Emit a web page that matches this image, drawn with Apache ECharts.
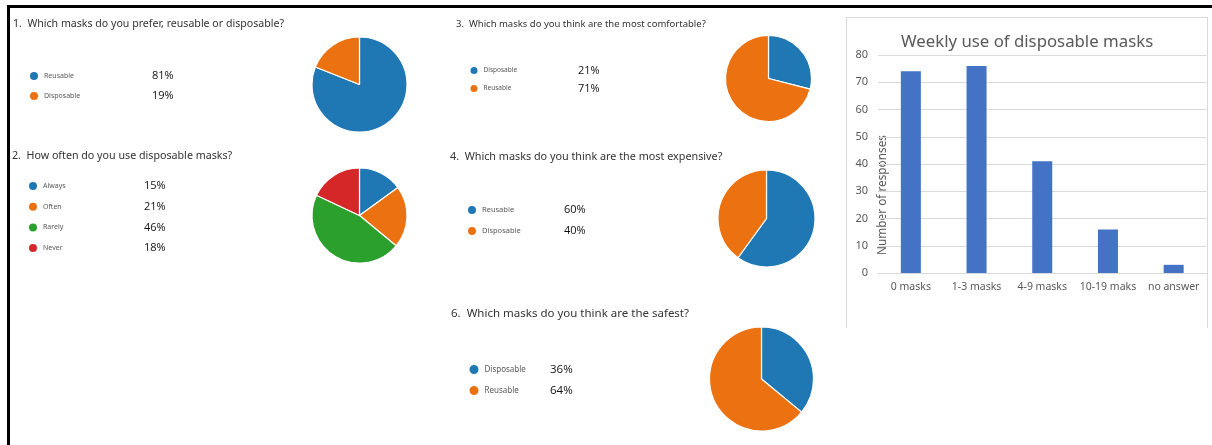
<!DOCTYPE html>
<html>
<head>
<meta charset="utf-8">
<script src="https://cdn.jsdelivr.net/npm/echarts@6/dist/echarts.min.js"></script>
<style>
  html, body { margin: 0; padding: 0; background: #fff; }
  #wrap { position: relative; width: 1212px; height: 445px; overflow: hidden; }
  #frame { position: absolute; left: 7px; top: 5px; width: 1300px; height: 500px;
           border-top: 3px solid #000; border-left: 3px solid #000; }
  #panel { position: absolute; left: 846px; top: 17px; width: 360px; height: 310px;
           border: 1px solid #d9d9d9; border-bottom: none; }
  #chart { position: absolute; left: 0; top: 0; width: 1212px; height: 445px; }
</style>
</head>
<body>
<div id="wrap">
  <div id="frame"></div>
  <div id="panel"></div>
  <div id="chart"></div>
</div>
<script>
// ---- data ----
const q1Title = '1.  Which masks do you prefer, reusable or disposable?';
const q1Names = ['Reusable', 'Disposable'];
const q1Values = [81, 19];
const q1Pct = ['81%', '19%'];

const q2Title = '2.  How often do you use disposable masks?';
const q2Names = ['Always', 'Often', 'Rarely', 'Never'];
const q2Values = [15, 21, 46, 18];
const q2Pct = ['15%', '21%', '46%', '18%'];

const q3Title = '3.  Which masks do you think are the most comfortable?';
const q3Names = ['Disposable', 'Reusable'];
const q3Values = [29, 71];          // slice sizes as drawn
const q3Pct = ['21%', '71%'];       // percentages as printed

const q4Title = '4.  Which masks do you think are the most expensive?';
const q4Names = ['Reusable', 'Disposable'];
const q4Values = [60, 40];
const q4Pct = ['60%', '40%'];

const q6Title = '6.  Which masks do you think are the safest?';
const q6Names = ['Disposable', 'Reusable'];
const q6Values = [36, 64];
const q6Pct = ['36%', '64%'];

const barTitle = 'Weekly use of disposable masks';
const barCategories = ['0 masks', '1-3 masks', '4-9 masks', '10-19 maks', 'no answer'];
const barValues = [74, 76, 41, 16, 3];
const barAxisName = 'Number of responses';

// ---- styles ----
const C = { blue: '#1f77b4', orange: '#ec7211', green: '#2ca02c', red: '#d62728' };
const q1Colors = [C.blue, C.orange];
const q2Colors = [C.blue, C.orange, C.green, C.red];
const q3Colors = [C.blue, C.orange];
const q4Colors = [C.blue, C.orange];
const q6Colors = [C.blue, C.orange];

const FONT = '"Noto Sans", "Open Sans", sans-serif';

function pieSeries(names, values, colors, center, r) {
  return {
    type: 'pie', center: center, radius: r, startAngle: 90, clockwise: true,
    label: { show: false }, labelLine: { show: false },
    emphasis: { disabled: true }, silent: true, animation: false,
    itemStyle: { borderColor: '#ffffff', borderWidth: 1.2 },
    data: names.map((n, i) => ({ name: n, value: values[i], itemStyle: { color: colors[i] } }))
  };
}

function legendFor(names, pct, colors, left, top, icon, gap, nameW, nameSize, pctSize) {
  return {
    orient: 'vertical', left: left, top: top, padding: 0,
    icon: 'circle', itemWidth: icon, itemHeight: icon, itemGap: gap,
    selectedMode: false,
    data: names.map((n, i) => ({ name: n, itemStyle: { color: colors[i] } })),
    formatter: function (name) {
      const i = names.indexOf(name);
      return '{n|' + name + '}{p|' + pct[i] + '}';
    },
    textStyle: {
      rich: {
        n: { width: nameW, fontSize: nameSize, color: '#595959', fontFamily: FONT, lineHeight: 14 },
        p: { fontSize: pctSize, color: '#111', fontFamily: '"Open Sans", sans-serif', lineHeight: 14 }
      }
    }
  };
}

function titleAt(text, left, top, size, color) {
  return { text: text, left: left, top: top, padding: 0,
           textStyle: { fontSize: size, fontWeight: 'normal', color: color || '#333', fontFamily: FONT } };
}

const chart = echarts.init(document.getElementById('chart'), null, { renderer: 'canvas' });
chart.setOption({
  animation: false,
  backgroundColor: 'transparent',
  title: [
    titleAt(q1Title, 13, 18, 10.6),
    titleAt(q3Title, 456, 19, 9.5),
    titleAt(q2Title, 12, 150, 10.7),
    titleAt(q4Title, 450, 151, 10.8),
    titleAt(q6Title, 451, 307.5, 11.5),
    { text: barTitle, left: 901, top: 34, padding: 0,
      textStyle: { fontSize: 16.8, fontWeight: 'normal', color: '#595959', fontFamily: FONT } }
  ],
  legend: [
    legendFor(q1Names, q1Pct, q1Colors, 28, 70, 10, 8, 108, 7, 11),
    legendFor(q3Names, q3Pct, q3Colors, 468.5, 65, 9, 7, 94.5, 6.5, 11),
    legendFor(q2Names, q2Pct, q2Colors, 27, 180, 10, 8.7, 101, 7, 11),
    legendFor(q4Names, q4Pct, q4Colors, 466, 204, 10, 9, 82, 7.5, 11),
    legendFor(q6Names, q6Pct, q6Colors, 467.5, 363, 11, 8, 65.5, 8, 11.5)
  ],
  grid: { left: 878, top: 55, width: 328.5, height: 218, containLabel: false },
  xAxis: {
    type: 'category', data: barCategories,
    axisLine: { lineStyle: { color: '#d9d9d9' } },
    axisTick: { show: false },
    axisLabel: { color: '#595959', fontSize: 10.5, fontFamily: FONT, margin: 9, interval: 0 }
  },
  yAxis: {
    type: 'value', min: 0, max: 80, interval: 10,
    axisLine: { show: false }, axisTick: { show: false },
    axisLabel: { color: '#595959', fontSize: 11, fontFamily: FONT, margin: 10 },
    splitLine: { lineStyle: { color: '#d9d9d9', width: 1 } }
  },
  graphic: [{
    type: 'text', x: 883, y: 195, rotation: Math.PI / 2, silent: true,
    style: { text: barAxisName, fill: '#595959', fontSize: 11.8, fontFamily: FONT,
             align: 'center', verticalAlign: 'middle' }
  }],
  series: [
    pieSeries(q1Names, q1Values, q1Colors, [359.5, 84.5], 47.5),
    pieSeries(q3Names, q3Values, q3Colors, [768.5, 78.5], 43),
    pieSeries(q2Names, q2Values, q2Colors, [359.5, 215.5], 47.5),
    pieSeries(q4Names, q4Values, q4Colors, [766.5, 218.5], 48.5),
    pieSeries(q6Names, q6Values, q6Colors, [761.5, 379], 52),
    { type: 'bar', data: barValues, barWidth: 20, silent: true,
      itemStyle: { color: '#4472c4' } }
  ]
});
</script>
</body>
</html>
